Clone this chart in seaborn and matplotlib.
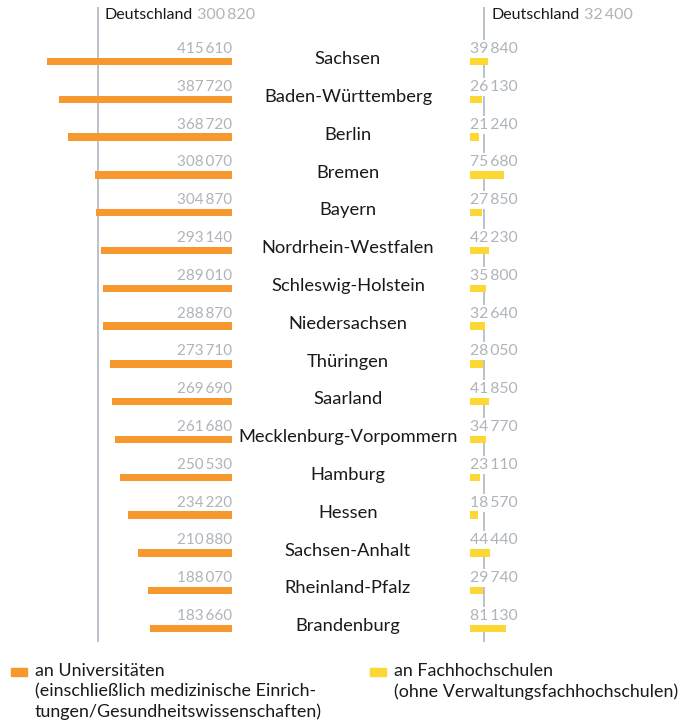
import matplotlib
matplotlib.use('Agg')
import matplotlib.pyplot as plt
import matplotlib.transforms as mtrans
from matplotlib.patches import Rectangle
import seaborn as sns
import pandas as pd

# data: Ausgaben je Student (Euro)
states = ['Sachsen', 'Baden-Württemberg', 'Berlin', 'Bremen', 'Bayern',
          'Nordrhein-Westfalen', 'Schleswig-Holstein', 'Niedersachsen',
          'Thüringen', 'Saarland', 'Mecklenburg-Vorpommern', 'Hamburg',
          'Hessen', 'Sachsen-Anhalt', 'Rheinland-Pfalz', 'Brandenburg']
uni = [415610, 387720, 368720, 308070, 304870, 293140, 289010, 288870,
       273710, 269690, 261680, 250530, 234220, 210880, 188070, 183660]
fh = [39840, 26130, 21240, 75680, 27850, 42230, 35800, 32640,
      28050, 41850, 34770, 23110, 18570, 44440, 29740, 81130]
de_uni = 300820
de_fh = 32400
legend_labels = ['an Universitäten\n(einschließlich medizinische Einrich-\ntungen/Gesundheitswissenschaften)',
                 'an Fachhochschulen\n(ohne Verwaltungsfachhochschulen)']

df = pd.DataFrame({'state': states, 'uni': uni, 'fh': fh})

orange = '#F7982F'
yellow = '#FDD835'
grey_txt = '#AEB4BA'
grey_line = '#B5BDC5'
FONT = 'Lato'

def fmt(v):
    s = f'{v:,}'.replace(',', '\u2009')
    return s

W, H = 688, 727
fig = plt.figure(figsize=(W / 100, H / 100), dpi=100)
plt.rcParams['font.family'] = [FONT, 'DejaVu Sans']

px = 4.46e-4  # pixel per euro
top, bot = 7, 642
row0, step = 61.5, 37.8
ylo = (top - row0) / step
yhi = (bot - row0) / step

def add_ax(x0, w):
    return fig.add_axes([x0 / W, (H - bot) / H, w / W, (bot - top) / H])

ax_l = add_ax(0, 232)
ax_r = add_ax(470, 218)

sns.barplot(data=df, x='uni', y='state', orient='h', color=orange,
            width=0.2, saturation=1, ax=ax_l, zorder=3)
sns.barplot(data=df, x='fh', y='state', orient='h', color=yellow,
            width=0.2, saturation=1, ax=ax_r, zorder=3)

ax_l.set_xlim(232 / px, 0)
ax_r.set_xlim(0, 218 / px)
for ax in (ax_l, ax_r):
    ax.set_ylim(yhi, ylo)
    ax.axis('off')

ax_l.axvline(de_uni, color=grey_line, lw=1.3, zorder=1)
ax_r.axvline(de_fh, color=grey_line, lw=1.3, zorder=1)

for i, (u, f) in enumerate(zip(uni, fh)):
    ax_l.text(0, i - 0.33, fmt(u), ha='right', va='center', fontsize=11,
              color=grey_txt)
    ax_r.text(0, i - 0.33, fmt(f), ha='left', va='center', fontsize=11.3,
              color=grey_txt, zorder=2,
              bbox=dict(facecolor='white', edgecolor='none', pad=1.5))

# state names in the middle
tr = mtrans.blended_transform_factory(fig.transFigure, ax_l.transData)
for i, s in enumerate(states):
    ax_l.text(348 / W, i - 0.06, s, transform=tr, ha='center', va='center',
              fontsize=13.2, color='#1a1a1a')

# Deutschland headers
for ax, v in ((ax_l, de_uni), (ax_r, de_fh)):
    t = ax.annotate('Deutschland', xy=(v, ylo + 0.2), xytext=(5, 0),
                    textcoords='offset points', ha='left', va='center',
                    fontsize=11.5, color='#1a1a1a')
    ax.annotate(' ' + fmt(v), xy=(1, 0), xycoords=t, ha='left', va='bottom',
                fontsize=11.5, color=grey_txt)

# legend
for x0, col, lab in ((11, orange, legend_labels[0]), (370, yellow, legend_labels[1])):
    fig.add_artist(Rectangle((x0 / W, (H - 676) / H), 16 / W, 8 / H,
                             transform=fig.transFigure, color=col))
    fig.text((x0 + 24) / W, (H - 663) / H, lab, ha='left', va='top',
             fontsize=12.9, color='#1a1a1a', linespacing=1.33)

fig.savefig('out.png', dpi=100)
